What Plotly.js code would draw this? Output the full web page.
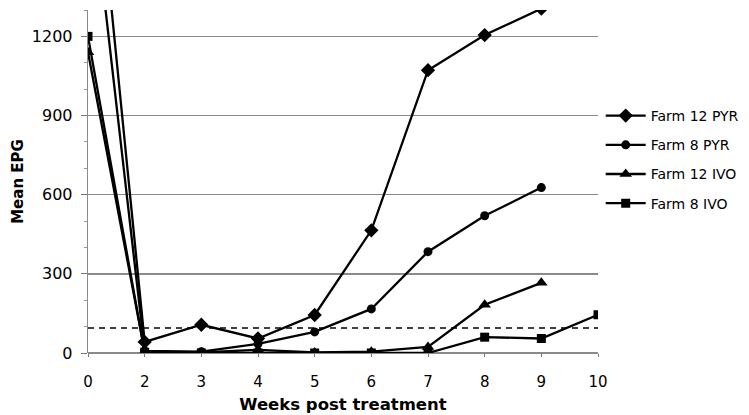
<!DOCTYPE html>
<html>
<head>
<meta charset="utf-8">
<script src="https://cdn.plot.ly/plotly-3.0.1.min.js"></script>
<style>html,body{margin:0;padding:0;background:#fff;}#chart{width:749px;height:415px;}</style>
</head>
<body>
<div id="chart"></div>
<script>
const weeks = ["0","2","3","4","5","6","7","8","9","10"];
const farm12PYR = [2200, 42, 107, 55, 144, 465, 1072, 1205, 1305, null];
const farm8PYR  = [1880, 8, 5, 35, 80, 167, 384, 520, 627, null];
const farm12IVO = [1140, 5, 2, 12, 2, 5, 23, 183, 266, null];
const farm8IVO  = [1200, 3, 0, 0, 0, 0, 0, 60, 55, 145];
const threshold = [95, 95, 95, 95, 95, 95, 95, 95, 95, 95];
const seriesNames = ["Farm 12 PYR", "Farm 8 PYR", "Farm 12 IVO", "Farm 8 IVO"];
const yTicks = [0, 300, 600, 900, 1200];

const FONT = "DejaVu Sans, Verdana, sans-serif";
const symbols = ["diamond", "circle", "triangle-up", "square"];
const sizes = [11, 9, 11, 9];
const data = [farm12PYR, farm8PYR, farm12IVO, farm8IVO].map((ys, i) => ({
  type: "scatter", mode: "lines+markers", name: seriesNames[i],
  x: weeks, y: ys, legendgroup: "g" + i,
  line: {color: "#000", width: 2.3},
  marker: {symbol: symbols[i], size: sizes[i], color: "#000"},
  cliponaxis: true
}));
data.push({
  type: "scatter", mode: "lines", x: weeks, y: threshold, showlegend: false,
  line: {color: "#000", width: 1.6, dash: "6px,5px"}, hoverinfo: "skip"
});

const layout = {
  width: 749, height: 415,
  margin: {l: 88, r: 151, t: 10, b: 62},
  paper_bgcolor: "#fff", plot_bgcolor: "#fff",
  font: {family: FONT, color: "#000"},
  showlegend: true,
  legend: {
    xref: "container", yref: "container",
    x: 0.802, xanchor: "left", y: 0.759, yanchor: "top",
    font: {family: FONT, size: 14, color: "#000"},
    traceorder: "grouped", tracegroupgap: 8, itemwidth: 40,
    bgcolor: "rgba(0,0,0,0)"
  },
  xaxis: {
    type: "category", range: [0, 9],
    showgrid: false, zeroline: false,
    showline: false,
    ticks: "outside", ticklen: 3, tickcolor: "#777",
    ticklabelstandoff: 12,
    tickfont: {family: FONT, size: 15, color: "#000"},
    title: {text: "<b>Weeks post treatment</b>", font: {family: FONT, size: 16.5, color: "#000"}, standoff: 8}
  },
  yaxis: {
    range: [0, 1300],
    tickvals: yTicks, ticktext: yTicks.map(String),
    showgrid: true, gridcolor: "#8a8a8a", gridwidth: 1.3,
    zeroline: true, zerolinecolor: "#8a8a8a", zerolinewidth: 1.3,
    showline: true, linecolor: "#8a8a8a", linewidth: 1.3,
    ticks: "outside", ticklen: 6, tickcolor: "#777",
    ticklabelstandoff: 5,
    minor: {dtick: 100, ticks: "outside", ticklen: 3, tickcolor: "#999", showgrid: false},
    tickfont: {family: FONT, size: 16, color: "#000"},
    title: {text: "<b>Mean EPG</b>", font: {family: FONT, size: 15, color: "#000"}, standoff: 4}
  }
};

Plotly.newPlot("chart", data, layout, {displayModeBar: false, staticPlot: true});
</script>
</body>
</html>
